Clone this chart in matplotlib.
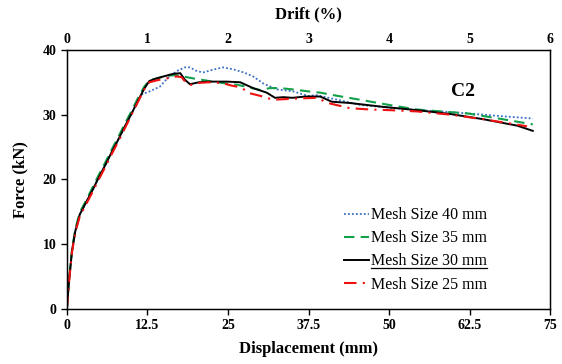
import matplotlib
matplotlib.use("Agg")
import matplotlib.pyplot as plt
from matplotlib.lines import Line2D

# ------------------------------------------------------------
# Data: displacement [mm] vs force [kN]
# ------------------------------------------------------------
d40 = [0, 0.3, 0.8, 1.3, 2, 3, 4, 5, 6, 7, 8, 9, 10, 11, 11.8, 12.4, 14.4, 15.5,
       17.0, 18.3, 19.1, 20.0, 21.1, 22.5, 24.2, 25.8, 27.5, 28.9, 30.5, 32.6,
       35.1, 37.4, 38.8, 42.0, 45.5, 50.0, 54.3, 58.0, 62.1, 67.0, 72.3]
f40 = [0, 4.0, 9.0, 12.0, 14.6, 16.5, 18.4, 20.4, 22.3, 24.3, 26.2, 28.2, 30.1,
       32.1, 33.3, 33.4, 34.3, 35.5, 36.7, 37.3, 37.3, 36.8, 36.5, 36.9, 37.3,
       37.0, 36.5, 35.9, 34.8, 33.9, 33.6, 32.9, 33.0, 32.3, 31.5, 31.1, 30.7,
       30.5, 30.2, 29.8, 29.4]

d35 = [0, 0.3, 0.8, 1.3, 2, 3, 4, 5, 6, 7, 8, 9, 10, 11, 12, 12.8, 14.0, 15.5,
       16.8, 18.0, 19.6, 22.0, 24.8, 26.5, 27.9, 30.0, 31.5, 33.1, 35.0, 37.4,
       39.3, 42.0, 45.5, 50.0, 54.3, 58.0, 62.1, 67.0, 72.3]
f35 = [0, 4.2, 9.2, 12.3, 14.9, 16.8, 18.8, 20.8, 22.7, 24.7, 26.6, 28.6, 30.5,
       32.5, 34.3, 35.3, 35.6, 36.0, 36.1, 35.9, 35.6, 35.2, 34.8, 34.6, 34.3,
       33.8, 34.1, 34.1, 33.9, 33.6, 33.4, 32.9, 32.3, 31.5, 30.8, 30.5, 30.2,
       29.4, 28.5]

d30 = [0, 0.3, 0.8, 1.3, 2, 3, 4, 5, 6, 7, 8, 9, 10, 11, 12, 12.8, 13.9, 15.0,
       16.5, 17.6, 18.3, 19.1, 20.5, 22.0, 24.8, 26.9, 28.9, 31.0, 32.3, 33.6,
       35.0, 37.0, 39.3, 41.1, 43.9, 46.5, 49.1, 54.3, 59.5, 64.6, 69.9, 72.3]
f30 = [0, 4.0, 9.0, 12.0, 14.6, 16.5, 18.4, 20.4, 22.3, 24.3, 26.2, 28.2, 30.1,
       32.1, 34.0, 35.2, 35.6, 35.9, 36.3, 36.4, 35.4, 34.7, 35.0, 35.1, 35.1,
       35.0, 34.1, 33.4, 32.6, 32.7, 32.6, 32.8, 32.8, 32.0, 31.8, 31.5, 31.2,
       30.7, 30.1, 29.3, 28.3, 27.5]

d25 = [0, 0.3, 0.8, 1.3, 2, 3, 4, 5, 6, 7, 8, 9, 10, 11, 12, 12.8, 14.0, 15.5,
       17.0, 17.8, 18.5, 19.3, 20.5, 22.0, 24.0, 25.5, 27.0, 28.4, 30.0, 32.0,
       34.0, 36.0, 38.8, 40.5, 43.9, 47.0, 50.0, 54.3, 59.5, 64.6, 69.0, 71.4]
f25 = [0, 3.8, 8.8, 11.8, 14.3, 16.2, 18.1, 20.1, 22.0, 24.0, 25.9, 27.9, 29.9,
       31.9, 33.9, 35.0, 35.3, 35.6, 35.9, 35.8, 34.9, 34.6, 34.9, 35.0, 34.9,
       34.5, 34.2, 33.3, 32.9, 32.3, 32.4, 32.5, 32.6, 31.8, 31.0, 30.8, 30.7,
       30.5, 30.0, 29.3, 28.6, 28.2]

labels = ["Mesh Size 40 mm", "Mesh Size 35 mm", "Mesh Size 30 mm", "Mesh Size 25 mm"]
x_ticks = [0, 12.5, 25, 37.5, 50, 62.5, 75]
x_ticklabels = ["0", "12.5", "25", "37.5", "50", "62.5", "75"]
drift_ticks = [0, 1, 2, 3, 4, 5, 6]
y_ticks = [0, 10, 20, 30, 40]

# ------------------------------------------------------------
# Plot
# ------------------------------------------------------------
plt.rcParams["font.family"] = ["Liberation Serif", "DejaVu Serif"]

fig = plt.figure(figsize=(5.62, 3.64), dpi=100)
ax = fig.add_axes([0.119, 0.151, 0.860, 0.712])

ax.plot(d40, f40, color="#3a6fc4", linestyle=(0, (1, 1.2)), lw=1.3, label=labels[0])
ax.plot(d35, f35, color="#13a04a", linestyle=(0, (5, 3)), lw=1.5, label=labels[1])
ax.plot(d30, f30, color="black", linestyle="-", lw=1.4, label=labels[2])
ax.plot(d25, f25, color="#ee1111", linestyle=(0, (6, 3, 1, 3)), lw=1.5, label=labels[3])

ax.set_xlim(0, 75)
ax.set_ylim(0, 40)
ax.set_xticks(x_ticks)
ax.set_xticklabels(x_ticklabels)
ax.set_yticks(y_ticks)
ax.tick_params(axis="both", direction="out", length=4, width=1, labelsize=10)
for lab in ax.get_xticklabels() + ax.get_yticklabels():
    lab.set_fontweight("bold")
for sp in ax.spines.values():
    sp.set_linewidth(1.0)

ax.set_xlabel("Displacement (mm)", fontsize=12, fontweight="bold", labelpad=6)
ax.set_ylabel("Force (kN)", fontsize=12, fontweight="bold", labelpad=10)

# drift axis on top
ax2 = ax.twiny()
ax2.set_xlim(0, 6)
ax2.set_xticks(drift_ticks)
ax2.tick_params(axis="x", direction="in", length=0, labelsize=10, pad=3)
for lab in ax2.get_xticklabels():
    lab.set_fontweight("bold")
ax2.set_xlabel("Drift (%)", fontsize=12, fontweight="bold", labelpad=10)

ax.text(61.5, 33.5, "C2", fontsize=14, fontweight="bold", ha="center", va="center")

leg = ax.legend(loc="lower left", bbox_to_anchor=(0.55, 0.02), frameon=False,
                fontsize=11.5, handlelength=1.6, handletextpad=0.1,
                labelspacing=0.45, borderaxespad=0.3)

# underline for the 30 mm entry
fig.canvas.draw()
txt = leg.get_texts()[2]
bb = txt.get_window_extent().transformed(fig.transFigure.inverted())
fig.add_artist(Line2D([bb.x0, bb.x1], [bb.y0 + 0.004, bb.y0 + 0.004],
                      transform=fig.transFigure, color="black", lw=0.9))

fig.savefig("out.png", dpi=100)
